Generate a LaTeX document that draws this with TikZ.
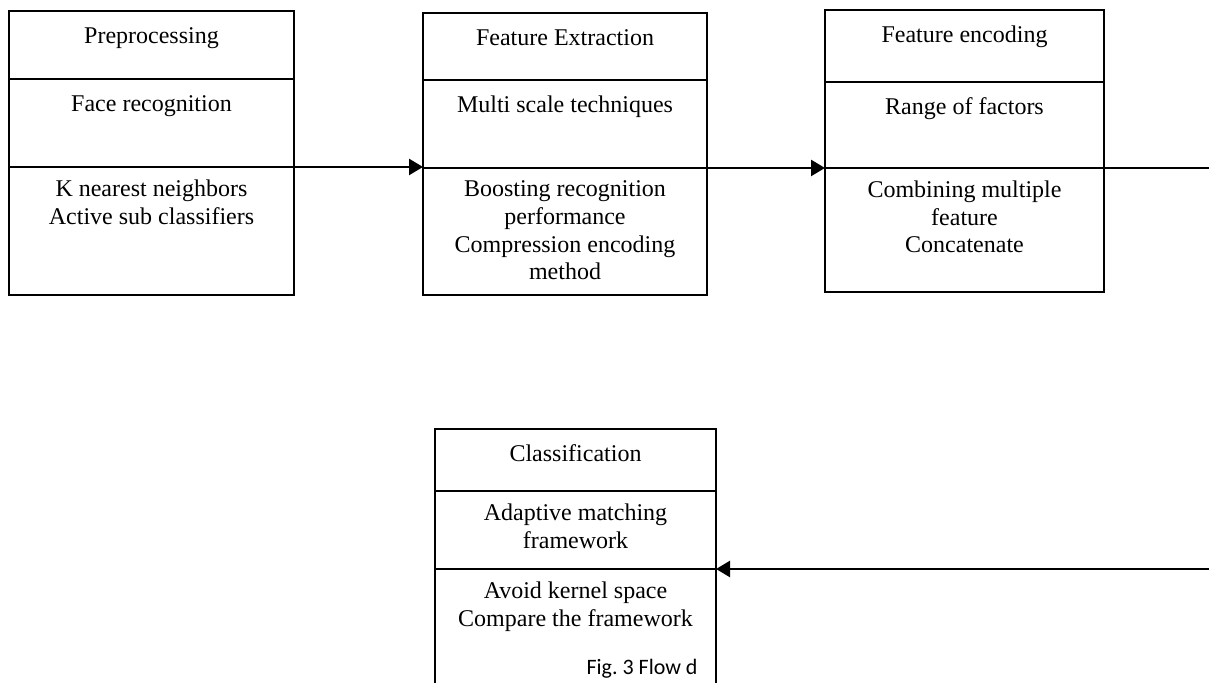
\documentclass[tikz,border=0pt]{standalone}
\usepackage{fontspec}
\setmainfont{Liberation Serif}
\newfontfamily\capfont{Carlito}
\usetikzlibrary{positioning,arrows.meta}

\tikzset{
    cell/.style={draw, line width=1pt, inner sep=0pt, outer sep=0pt, anchor=north},
    celltext/.style={align=center, inner sep=0pt, anchor=north,
        font=\fontsize{12}{13.8}\selectfont, execute at begin node=\strut},
    flow/.style={line width=1.25pt, -{Triangle[length=7pt,width=8pt]}}
}

\begin{document}
\begin{tikzpicture}[x=1pt, y=-1pt, node distance=0pt]
\clip (0,0) rectangle (604.5,341.5);
\fill[white] (0,0) rectangle (604.5,341.5);

% Preprocessing
\node[cell, minimum width=142.5pt, minimum height=34pt] (pre-t) at (75.75,5.5) {};
\node[cell, minimum width=142.5pt, minimum height=44pt, below=of pre-t] (pre-m) {};
\node[cell, minimum width=142.5pt, minimum height=64pt, below=of pre-m] (pre-b) {};
\node[celltext, below=6.3pt of pre-t.north] (pre-tt) {Preprocessing};
\node[celltext, below=6.3pt of pre-m.north] (pre-mt) {Face recognition};
\node[celltext, below=6.3pt of pre-b.north] (pre-bt) {K nearest neighbors\\Active sub classifiers};

% Feature Extraction
\node[cell, minimum width=142pt, minimum height=33.5pt] (ext-t) at (282.5,6.5) {};
\node[cell, minimum width=142pt, minimum height=44pt, below=of ext-t] (ext-m) {};
\node[cell, minimum width=142pt, minimum height=63.5pt, below=of ext-m] (ext-b) {};
\node[celltext, below=6.3pt of ext-t.north] (ext-tt) {Feature Extraction};
\node[celltext, below=6.3pt of ext-m.north] (ext-mt) {Multi scale techniques};
\node[celltext, below=6.3pt of ext-b.north] (ext-bt) {Boosting recognition\\performance\\Compression encoding\\method};

% Feature encoding
\node[cell, minimum width=139.5pt, minimum height=36pt] (enc-t) at (482.25,5) {};
\node[cell, minimum width=139.5pt, minimum height=43pt, below=of enc-t] (enc-m) {};
\node[cell, minimum width=139.5pt, minimum height=62pt, below=of enc-m] (enc-b) {};
\node[celltext, below=6.3pt of enc-t.north] (enc-tt) {Feature encoding};
\node[celltext, below=6.3pt of enc-m.north] (enc-mt) {Range of factors};
\node[celltext, below=6.3pt of enc-b.north] (enc-bt) {Combining multiple\\feature\\Concatenate};

% Classification (runs off the bottom)
\node[cell, minimum width=140.5pt, minimum height=31pt] (cls-t) at (287.75,214.5) {};
\node[cell, minimum width=140.5pt, minimum height=39pt, below=of cls-t] (cls-m) {};
\node[cell, minimum width=140.5pt, minimum height=70pt, below=of cls-m] (cls-b) {};
\node[celltext, below=6.3pt of cls-t.north] (cls-tt) {Classification};
\node[celltext, below=6.3pt of cls-m.north] (cls-mt) {Adaptive matching\\framework};
\node[celltext, below=6.3pt of cls-b.north] (cls-bt) {Avoid kernel space\\Compare the framework};
\node[anchor=base east, inner sep=0pt, font=\capfont\fontsize{11}{13}\selectfont] (cls-cap) at (349,337) {Fig.\ 3 Flow d};

% connectors
\coordinate (out-r) at (604.5,84);
\coordinate (in-r) at (604.5,284.5);
\draw[flow] (pre-b.north east) -- (pre-b.north east -| ext-b.west);
\draw[flow] (ext-b.north east) -- (ext-b.north east -| enc-b.west);
\draw[line width=1.25pt] (enc-b.north east) -- (out-r);
\draw[flow] (in-r) -- (cls-b.north east);
\end{tikzpicture}
\end{document}
